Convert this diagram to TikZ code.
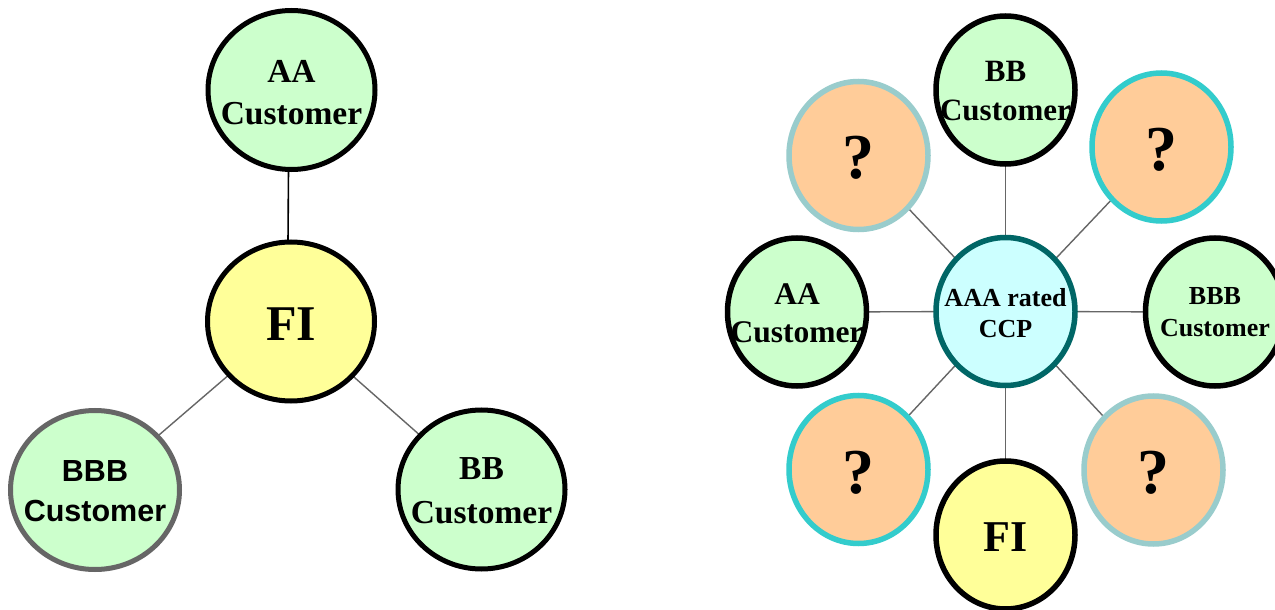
\documentclass[tikz,border=0pt]{standalone}
\usepackage{fontspec}
\setmainfont{Liberation Serif}
\newfontfamily\sansf{Liberation Sans}
\usetikzlibrary{shapes.geometric,backgrounds}

\definecolor{fillgreen}{HTML}{CCFFCC}
\definecolor{fillyellow}{HTML}{FFFF99}
\definecolor{fillcyan}{HTML}{CCFFFF}
\definecolor{fillorange}{HTML}{FFCC99}
\definecolor{edgeteal}{HTML}{006666}
\definecolor{edgecyan}{HTML}{33CCCC}
\definecolor{edgepale}{HTML}{99CCCC}
\definecolor{edgegray}{HTML}{666666}
\definecolor{conngray}{HTML}{666666}

% #1 font family, #2 size, #3 baselineskip, #4 drop of last baseline below centre, #5 lines
\newcommand\ctxt[5][\rmfamily]{\makebox[0pt]{\smash{\raisebox{-#4bp}{\fontsize{#2bp}{#3bp}\selectfont#1\bfseries\begin{tabular}[b]{@{}c@{}}#5\end{tabular}}}}}

\tikzset{
  x=1bp, y=-1bp,
  bigdisc/.style={ellipse, draw=black, line width=5bp, minimum width=167bp, minimum height=159bp, inner sep=0pt, outer sep=0pt},
  smalldisc/.style={ellipse, draw=black, line width=5.5bp, minimum width=139bp, minimum height=148bp, inner sep=0pt, outer sep=0pt},
  custfill/.style={fill=fillgreen},
  fifill/.style={fill=fillyellow},
  ccpfill/.style={fill=fillcyan, draw=edgeteal},
  qcyan/.style={fill=fillorange, draw=edgecyan},
  qpale/.style={fill=fillorange, draw=edgepale},
  conn/.style={draw=conngray, line width=1.4bp},
  connblack/.style={draw=black, line width=1.6bp},
}

\begin{document}
\begin{tikzpicture}
\useasboundingbox (0,0) rectangle (1275,610);

% ---------- left diagram ----------
\node[bigdisc, custfill] (laa) at (291.5,90) {\ctxt{33.5}{42}{35}{AA\\Customer}};
\node[bigdisc, fifill] (lfi) at (291,321.5) {\ctxt{50}{50}{19}{FI}};
\node[bigdisc, custfill, draw=edgegray, minimum width=169bp] (lbbb) at (95,490) {\ctxt[\sansf]{30.5}{40}{31}{BBB\\Customer}};
\node[bigdisc, custfill] (lbb) at (481.5,489.5) {\ctxt{33.5}{44}{33.5}{BB\\Customer}};

% ---------- right diagram ----------
\node[smalldisc, ccpfill] (ccp) at (1005.5,311.5) {\ctxt{26}{31}{26.5}{AAA rated\\CCP}};
\node[smalldisc, custfill] (rbb) at (1005.5,90) {\ctxt{31}{39}{31}{BB\\Customer}};
\node[smalldisc, custfill] (raa) at (797,312) {\ctxt{31.5}{38}{31}{AA\\Customer}};
\node[smalldisc, custfill] (rbbb) at (1215,312) {\ctxt{26}{32}{25}{BBB\\Customer}};
\node[smalldisc, fifill] (rfi) at (1005.5,535) {\ctxt{44}{44}{16}{FI}};
\node[smalldisc, qpale] (qtl) at (858.5,155.5) {\ctxt{64}{64}{23.5}{?}};
\node[smalldisc, qcyan] (qtr) at (1161.5,147) {\ctxt{64}{64}{23.5}{?}};
\node[smalldisc, qcyan] (qbl) at (858.5,469.5) {\ctxt{64}{64}{23.5}{?}};
\node[smalldisc, qpale] (qbr) at (1153.5,470) {\ctxt{64}{64}{23.5}{?}};

\begin{pgfonlayer}{background}
  \fill[white] (0,0) rectangle (1275,610);
  \path[connblack] ([xshift=-3bp]laa.south) -- ([xshift=-3bp]lfi.north);
  \path[conn] (lfi) -- (lbbb);
  \path[conn] (lfi) -- (lbb);
  \path[conn] (ccp) -- (rbb);
  \path[conn] (ccp) -- (raa);
  \path[conn] (ccp) -- (rbbb);
  \path[conn] (ccp) -- (rfi);
  \path[conn] (ccp) -- (qtl);
  \path[conn] (ccp) -- (qtr);
  \path[conn] (ccp) -- (qbl);
  \path[conn] (ccp) -- (qbr);
\end{pgfonlayer}
\end{tikzpicture}
\end{document}
